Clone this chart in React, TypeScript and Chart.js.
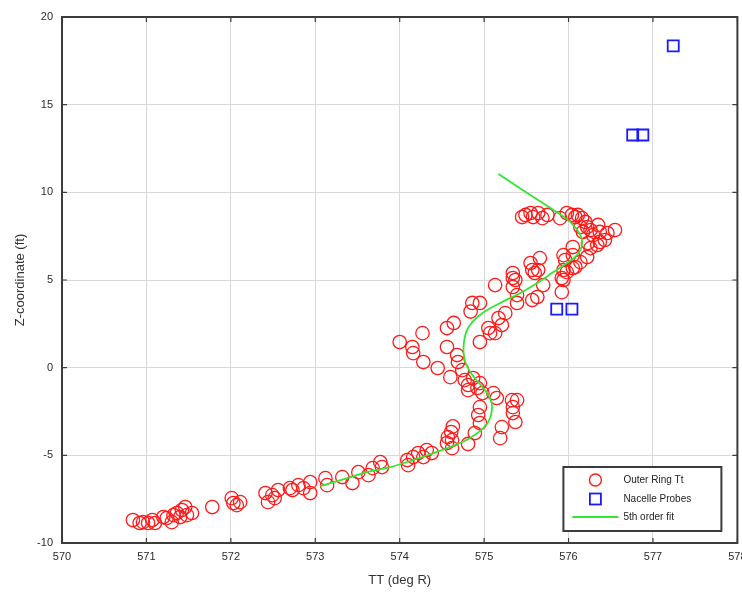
import React, { useEffect, useRef } from "react";
import { Chart, registerables } from "chart.js";

Chart.register(...registerables);

// ---- Data ----
const outerX = [
  570.84, 570.92, 570.96, 571.02, 571.07, 571.10, 571.20, 571.24, 571.30, 571.32,
  571.36, 571.40, 571.42, 571.46, 571.48, 571.54, 571.78, 572.01, 572.03, 572.07,
  572.11, 572.41, 572.44, 572.49, 572.52, 572.56, 572.70, 572.73, 572.80, 572.86,
  572.94, 572.94, 573.12, 573.14, 573.32, 573.44, 573.51, 573.63, 573.68, 573.77,
  573.79, 574.09, 574.10, 574.16, 574.22, 574.28, 574.32, 574.38, 574.56, 574.57,
  574.61, 574.63, 574.62, 574.62, 574.81,
  574.00, 574.27, 574.15, 574.16, 574.28, 574.45, 574.60, 574.56, 574.56, 574.64,
  574.68, 574.69, 574.74, 574.77, 574.81, 574.81, 574.87, 574.92, 574.95, 574.98,
  575.11, 575.15, 574.95, 574.93, 574.95, 574.89, 575.33, 575.39, 575.34, 575.34,
  575.37, 575.21, 575.19, 574.84, 574.86, 574.95, 574.95, 575.05, 575.07, 575.13,
  575.17, 575.21, 575.25, 575.39, 575.57,
  575.13, 575.34, 575.37, 575.34, 575.39, 575.55, 575.57, 575.66, 575.60, 575.70,
  575.63, 575.94, 575.96, 575.94, 575.92, 576.05, 576.05, 575.98, 576.05,
  575.45, 575.49, 575.55, 575.58, 575.64, 575.69, 575.75, 575.90, 575.98, 576.04,
  576.08, 576.11, 576.16, 576.20, 576.22, 576.26, 576.14, 576.17, 576.29, 576.37,
  576.46, 576.55, 576.43, 576.37, 576.34, 576.23, 576.26, 576.22, 576.14, 576.08,
  575.92, 575.64, 575.34, 575.94, 576.35,
];
const outerY = [
  -8.69, -8.86, -8.81, -8.86, -8.69, -8.86, -8.52, -8.58, -8.81, -8.41,
  -8.29, -8.52, -8.12, -7.95, -8.41, -8.29, -7.95, -7.44, -7.72, -7.84,
  -7.67, -7.15, -7.67, -7.27, -7.44, -6.98, -6.87, -6.98, -6.70, -6.87,
  -6.53, -7.15, -6.30, -6.70, -6.24, -6.58, -5.96, -6.13, -5.73, -5.39,
  -5.67, -5.27, -5.56, -5.10, -4.87, -5.10, -4.70, -4.87, -4.30, -3.96,
  -3.67, -3.35, -4.59, -4.13, -4.35,
  1.46, 1.97, 1.18, 0.83, 0.32, -0.02, -0.54, 1.18, 2.26, 2.55,
  0.72, 0.32, -0.14, -0.71, -0.99, -1.28, -0.59, -1.16, -0.88, -1.45,
  -1.45, -1.73, -2.25, -2.70, -3.16, -3.73, -1.85, -1.85, -2.25, -2.59,
  -3.10, -3.39, -4.02, 3.20, 3.69, 3.69, 1.46, 2.26, 1.97, 1.97,
  2.83, 2.43, 3.11, 3.69, 3.86,
  4.71, 5.40, 5.00, 4.60, 4.14, 5.97, 5.57, 6.25, 5.40, 4.71,
  4.03, 6.42, 6.14, 5.00, 4.31, 6.42, 5.68, 5.45, 6.88,
  8.59, 8.71, 8.82, 8.59, 8.82, 8.53, 8.71, 8.53, 8.82, 8.71,
  8.59, 8.71, 8.53, 8.31, 8.02, 7.85, 8.02, 7.74, 7.56, 7.74,
  7.68, 7.85, 7.28, 7.17, 7.00, 7.11, 6.82, 6.31, 6.02, 5.74,
  5.11, 5.57, 5.11, 5.57, 8.14,
];

const nacelleX = [575.86, 576.04, 576.76, 576.88, 577.24];
const nacelleY = [3.34, 3.34, 13.27, 13.27, 18.35];

const fitX = [
  575.17, 575.51, 575.82, 576.02, 576.14, 576.16, 576.10, 575.98, 575.82, 575.63,
  575.43, 575.19, 574.95, 574.81, 574.76, 574.77, 574.86, 575.01, 575.09, 575.07,
  574.99, 574.83, 574.63, 574.40, 574.16, 573.89, 573.61, 573.38, 573.06,
];
const fitY = [
  11.04, 9.96, 8.99, 8.31, 7.56, 6.99, 6.42, 5.97, 5.45, 4.83,
  4.26, 3.69, 3.00, 2.26, 1.40, 0.43, -0.42, -1.28, -2.02, -2.88,
  -3.45, -4.02, -4.47, -4.87, -5.27, -5.67, -5.96, -6.30, -6.75,
];

const legendLabels = ["Outer Ring Tt", "Nacelle Probes", "5th order fit"];
const xTitle = "TT (deg R)";
const yTitle = "Z-coordinate (ft)";
const xMin = 570, xMax = 578, xStep = 1;
const yMin = -10, yMax = 20, yStep = 5;

const RED = "#ff1a1a";
const BLUE = "#1a1aff";
const GREEN = "#33e633";
const FONT = 'Arial, "Liberation Sans", sans-serif';

const framePlugin = {
  id: "frame",
  afterDatasetsDraw(chart: any) {
    const { ctx, chartArea: a, scales } = chart;
    ctx.save();
    ctx.strokeStyle = "#3c3c3c";
    ctx.lineWidth = 1.2;
    const tl = 5;
    ctx.beginPath();
    for (const t of scales.x.ticks) {
      const px = scales.x.getPixelForValue(t.value);
      ctx.moveTo(px, a.bottom); ctx.lineTo(px, a.bottom - tl);
      ctx.moveTo(px, a.top); ctx.lineTo(px, a.top + tl);
    }
    for (const t of scales.y.ticks) {
      const py = scales.y.getPixelForValue(t.value);
      ctx.moveTo(a.left, py); ctx.lineTo(a.left + tl, py);
      ctx.moveTo(a.right, py); ctx.lineTo(a.right - tl, py);
    }
    ctx.stroke();
    ctx.lineWidth = 2;
    ctx.strokeRect(a.left, a.top, a.right - a.left, a.bottom - a.top);
    ctx.restore();
  },
};

const legendPlugin = {
  id: "insideLegend",
  afterDraw(chart: any) {
    const { ctx, chartArea: a } = chart;
    const w = 158, h = 64;
    const x0 = a.right - 174, y0 = a.bottom - 76;
    ctx.save();
    ctx.fillStyle = "#ffffff";
    ctx.fillRect(x0, y0, w, h);
    ctx.strokeStyle = "#3c3c3c";
    ctx.lineWidth = 2;
    ctx.strokeRect(x0, y0, w, h);
    const rows = [y0 + 13, y0 + 32, y0 + 50];
    const cx = x0 + 32;
    ctx.strokeStyle = RED; ctx.lineWidth = 1.4;
    ctx.beginPath(); ctx.arc(cx, rows[0], 6, 0, Math.PI * 2); ctx.stroke();
    ctx.strokeStyle = BLUE; ctx.lineWidth = 1.8;
    ctx.strokeRect(cx - 5.5, rows[1] - 5.5, 11, 11);
    ctx.strokeStyle = GREEN; ctx.lineWidth = 1.8;
    ctx.beginPath(); ctx.moveTo(x0 + 9, rows[2]); ctx.lineTo(x0 + 55, rows[2]); ctx.stroke();
    ctx.fillStyle = "#222";
    ctx.font = `10px ${FONT}`;
    ctx.textBaseline = "middle";
    ctx.textAlign = "left";
    legendLabels.forEach((t, i) => ctx.fillText(t, x0 + 60, rows[i]));
    ctx.restore();
  },
};

export default function App() {
  const ref = useRef<HTMLCanvasElement | null>(null);
  useEffect(() => {
    document.body.style.margin = "0";
    const outer = outerX.map((x, i) => ({ x, y: outerY[i] }));
    const nacelle = nacelleX.map((x, i) => ({ x, y: nacelleY[i] }));
    const fit = fitX.map((x, i) => ({ x, y: fitY[i] }));
    const chart = new Chart(ref.current as HTMLCanvasElement, {
      type: "scatter",
      data: {
        datasets: [
          {
            label: legendLabels[2], data: fit, showLine: true, borderColor: GREEN,
            borderWidth: 1.8, pointRadius: 0, tension: 0.4, order: 0, fill: false,
          },
          {
            label: legendLabels[1], data: nacelle, pointStyle: "rect", pointRadius: 7.8,
            borderColor: BLUE, backgroundColor: "rgba(0,0,0,0)", borderWidth: 1.8, order: 1,
          },
          {
            label: legendLabels[0], data: outer, pointStyle: "circle", pointRadius: 6.7,
            borderColor: RED, backgroundColor: "rgba(0,0,0,0)", borderWidth: 1.3, order: 2,
          },
        ] as any,
      },
      options: {
        animation: false,
        responsive: false,
        layout: { padding: { top: 17, right: 0, left: 0, bottom: 0 } },
        plugins: { legend: { display: false }, tooltip: { enabled: false } },
        scales: {
          x: {
            type: "linear", min: xMin, max: xMax,
            ticks: { stepSize: xStep, color: "#2a2a2a", padding: 7, font: { family: FONT, size: 11 } },
            grid: { color: "#d8d8d8", drawTicks: false, lineWidth: 1 },
            border: { display: false },
            title: { display: true, text: xTitle, color: "#333", font: { family: FONT, size: 13 }, padding: { top: 4, bottom: 6 } },
            afterFit: (s: any) => { s.height = 51; s.paddingRight = 0; s.paddingLeft = 0; },
          },
          y: {
            type: "linear", min: yMin, max: yMax,
            ticks: { stepSize: yStep, color: "#2a2a2a", padding: 9, font: { family: FONT, size: 11 } },
            grid: { color: "#d8d8d8", drawTicks: false, lineWidth: 1 },
            border: { display: false },
            title: { display: true, text: yTitle, color: "#333", font: { family: FONT, size: 13 }, padding: { top: 13, bottom: 4 } },
            afterFit: (s: any) => { s.width = 62; s.paddingTop = 0; s.paddingBottom = 0; },
          },
        },
      } as any,
      plugins: [framePlugin, legendPlugin],
    });
    return () => chart.destroy();
  }, []);
  return (
    <div style={{ position: "absolute", left: 0, top: 0, width: 742, height: 594, background: "#fff", overflow: "hidden" }}>
      <canvas ref={ref} width={747} height={594} />
    </div>
  );
}
